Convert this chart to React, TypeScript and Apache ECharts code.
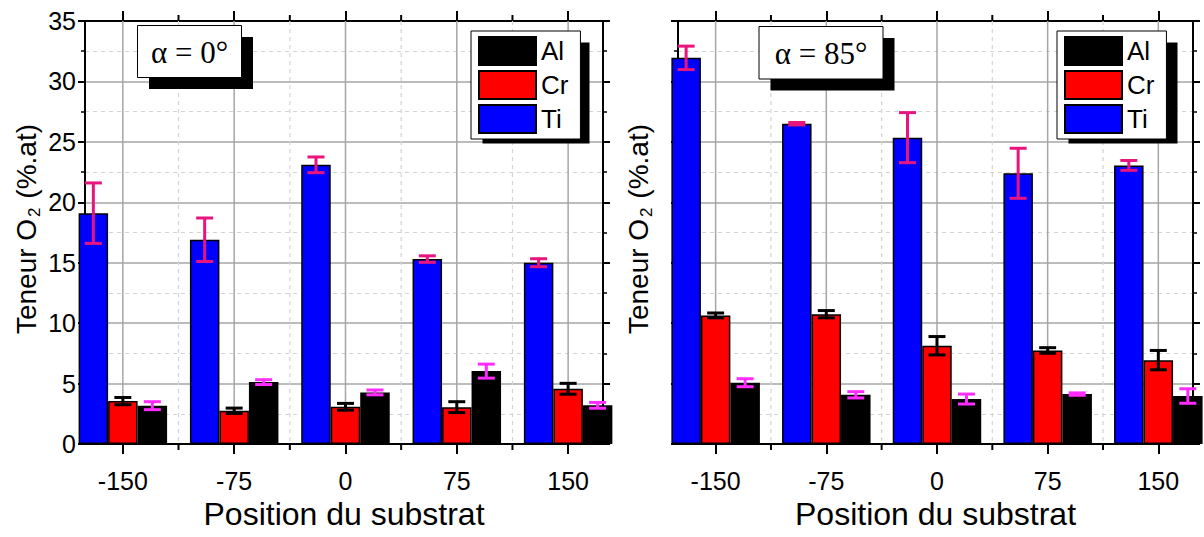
import React, { useEffect, useRef } from 'react';
import * as echarts from 'echarts';

// Substrate positions (x values) and minor grid positions
const positions = [-150, -75, 0, 75, 150];
const xMinor = [-112.5, -37.5, 37.5, 112.5];
const legendNames = ['Al', 'Cr', 'Ti'];

// alpha = 0°
const ti0 = [19.1, 16.9, 23.1, 15.3, 15.0];
const ti0Err = [2.5, 1.8, 0.65, 0.27, 0.33];
const cr0 = [3.55, 2.75, 3.08, 3.05, 4.57];
const cr0Err = [0.3, 0.22, 0.28, 0.45, 0.45];
const al0 = [3.17, 5.12, 4.27, 6.03, 3.2];
const al0Err = [0.33, 0.2, 0.2, 0.58, 0.24];

// alpha = 85°
const ti85 = [31.95, 26.5, 25.35, 22.4, 23.05];
const ti85Err = [0.97, 0.1, 2.07, 2.07, 0.41];
const cr85 = [10.64, 10.74, 8.13, 7.74, 6.94];
const cr85Err = [0.2, 0.3, 0.76, 0.23, 0.8];
const al85 = [5.07, 4.07, 3.72, 4.13, 3.97];
const al85Err = [0.33, 0.26, 0.41, 0.1, 0.6];

const FONT = '"Liberation Sans", Arial, Helvetica, sans-serif';
const SERIF = '"Liberation Serif", "Times New Roman", "DejaVu Serif", serif';
const BAR_W = 29.5;
const CAP = 17;

const COLORS = { Ti: '#0000ff', Cr: '#ff0000', Al: '#000000' };
const ERR_COLORS = { Ti: '#e8157e', Cr: '#000000', Al: '#ff2bff' };

function buildOption() {
  const panels = [
    { ti: ti0, tiErr: ti0Err, cr: cr0, crErr: cr0Err, al: al0, alErr: al0Err },
    { ti: ti85, tiErr: ti85Err, cr: cr85, crErr: cr85Err, al: al85, alErr: al85Err },
  ];
  const grids = [
    { left: 85, top: 21, width: 518, height: 423 },
    { left: 678, top: 21, width: 515, height: 423 },
  ];
  const xAxis: any[] = [];
  const yAxis: any[] = [];
  const series: any[] = [];

  panels.forEach((p, gi) => {
    const axisLine = { show: true, onZero: false, lineStyle: { color: '#000', width: 2 } };
    xAxis.push({
      type: 'value', gridIndex: gi, position: 'bottom', min: -175.5, max: 173.5,
      axisLine,
      axisTick: { show: true, inside: false, length: 10, customValues: positions, lineStyle: { color: '#000', width: 2 } },
      axisLabel: { show: true, customValues: positions, fontSize: 25, fontFamily: FONT, color: '#000', margin: 24 },
      splitLine: { show: false },
      name: 'Position du substrat', nameLocation: 'middle', nameGap: 45,
      nameTextStyle: { fontSize: 32, fontFamily: FONT, color: '#000' },
    });
    xAxis.push({
      type: 'value', gridIndex: gi, position: 'top', min: -175.5, max: 173.5,
      axisLine,
      axisTick: { show: true, inside: false, length: 10, customValues: positions, lineStyle: { color: '#000', width: 2 } },
      axisLabel: { show: false },
      splitLine: { show: false },
    });
    const yCommon = {
      type: 'value', gridIndex: gi, min: 0, max: 35, interval: 5,
      axisLine,
      axisTick: { show: true, inside: false, length: 7, lineStyle: { color: '#000', width: 2 } },
      minorTick: { show: true, splitNumber: 2, length: 4, lineStyle: { color: '#000', width: 1.5 } },
    };
    yAxis.push({
      ...yCommon, position: 'left',
      axisLabel: { show: gi === 0, fontSize: 25, fontFamily: FONT, color: '#000', margin: 9 },
      splitLine: { show: true, lineStyle: { color: '#a6a6a6', width: 1.5 } },
      minorSplitLine: { show: true, lineStyle: { color: '#d4d4d4', width: 1.2, type: [4, 4] } },
    });
    yAxis.push({
      ...yCommon, position: 'right',
      axisLabel: { show: false },
      splitLine: { show: false },
      minorSplitLine: { show: false },
    });

    const xi = gi * 2;
    const yi = gi * 2;

    // vertical grid lines (major, solid)
    series.push({
      type: 'custom', name: 'gridMajor' + gi, xAxisIndex: xi, yAxisIndex: yi, z: 1, silent: true,
      data: positions.map((x) => [x, 0]),
      encode: { x: 0, y: 1 },
      renderItem: (params: any, api: any) => {
        const c = api.coord([api.value(0), 0]);
        const cs = params.coordSys;
        return {
          type: 'line',
          shape: { x1: c[0], y1: cs.y, x2: c[0], y2: cs.y + cs.height },
          style: { stroke: '#a6a6a6', lineWidth: 1.5 },
        };
      },
    });
    // vertical grid lines (minor, dashed) + minor ticks top/bottom
    series.push({
      type: 'custom', name: 'gridMinor' + gi, xAxisIndex: xi, yAxisIndex: yi, z: 1, silent: true,
      data: xMinor.map((x) => [x, 0]),
      encode: { x: 0, y: 1 },
      renderItem: (params: any, api: any) => {
        const c = api.coord([api.value(0), 0]);
        const cs = params.coordSys;
        const bottom = cs.y + cs.height;
        return {
          type: 'group',
          children: [
            { type: 'line', shape: { x1: c[0], y1: cs.y, x2: c[0], y2: bottom }, style: { stroke: '#d4d4d4', lineWidth: 1.2, lineDash: [4, 4] } },
            { type: 'line', shape: { x1: c[0], y1: cs.y - 6, x2: c[0], y2: cs.y }, style: { stroke: '#000', lineWidth: 2 } },
            { type: 'line', shape: { x1: c[0], y1: bottom, x2: c[0], y2: bottom + 6 }, style: { stroke: '#000', lineWidth: 2 } },
          ],
        };
      },
    });

    const bars: [string, number[], number[]][] = [
      ['Ti', p.ti, p.tiErr],
      ['Cr', p.cr, p.crErr],
      ['Al', p.al, p.alErr],
    ];
    bars.forEach(([name, vals]) => {
      series.push({
        type: 'bar', name, xAxisIndex: xi, yAxisIndex: yi, z: 2,
        barWidth: BAR_W, barGap: '0%',
        data: positions.map((x, i) => [x, vals[i]]),
        itemStyle: { color: (COLORS as any)[name], borderColor: '#000', borderWidth: 1.5 },
        emphasis: { disabled: true },
      });
    });
    bars.forEach(([name, vals, errs], bi) => {
      const offset = (bi - 1) * BAR_W;
      const color = (ERR_COLORS as any)[name];
      series.push({
        type: 'custom', name: 'err' + name + gi, xAxisIndex: xi, yAxisIndex: yi, z: 3, silent: true,
        data: positions.map((x, i) => [x, vals[i] - errs[i], vals[i] + errs[i]]),
        encode: { x: 0, y: [1, 2] },
        renderItem: (params: any, api: any) => {
          const lo = api.coord([api.value(0), api.value(1)]);
          const hi = api.coord([api.value(0), api.value(2)]);
          const cx = lo[0] + offset;
          const hw = CAP / 2;
          const st = { stroke: color, lineWidth: 3 };
          return {
            type: 'group',
            children: [
              { type: 'line', shape: { x1: cx, y1: hi[1], x2: cx, y2: lo[1] }, style: st },
              { type: 'line', shape: { x1: cx - hw, y1: hi[1], x2: cx + hw, y2: hi[1] }, style: st },
              { type: 'line', shape: { x1: cx - hw, y1: lo[1], x2: cx + hw, y2: lo[1] }, style: st },
            ],
          };
        },
      });
    });
  });

  const legendCommon = {
    orient: 'vertical', data: legendNames, icon: 'rect',
    itemWidth: 57, itemHeight: 28, itemGap: 4,
    padding: [5, 12, 5, 7],
    backgroundColor: '#fff', borderColor: '#000', borderWidth: 1,
    textStyle: { fontSize: 26, fontFamily: FONT, color: '#000' },
    selectedMode: false, z: 4,
  };

  const yTitle = (x: number) => ({
    type: 'text', x, y: 229, rotation: Math.PI / 2, z: 5, silent: true,
    style: {
      text: '{a|Teneur O}{b|2}{a| (%.at)}',
      align: 'center', verticalAlign: 'middle',
      rich: {
        a: { fontSize: 28, fontFamily: FONT, fill: '#000', lineHeight: 34 },
        b: { fontSize: 17, fontFamily: FONT, fill: '#000', lineHeight: 17, verticalAlign: 'bottom', padding: [10, 1, 0, 2] },
      },
    },
  });

  const alphaBox = (x: number, y: number, w: number, h: number, label: string) => ({
    type: 'group', z: 6,
    children: [
      { type: 'rect', z: 6, shape: { x: x + 11.5, y: y + 11.5, width: w, height: h }, style: { fill: '#000' } },
      { type: 'rect', z: 6, shape: { x, y, width: w, height: h }, style: { fill: '#fff', stroke: '#000', lineWidth: 1 } },
      {
        type: 'text', z: 7, x: x + w / 2, y: y + h / 2 + 1,
        style: {
          text: '{s|' + label + '}',
          align: 'center', verticalAlign: 'middle',
          rich: { s: { fontFamily: SERIF, fontSize: 31, fill: '#000', lineHeight: 34 } },
        },
      },
    ],
  });

  return {
    animation: false,
    backgroundColor: '#fff',
    grid: grids,
    xAxis,
    yAxis,
    legend: [
      { ...legendCommon, left: 471, top: 31 },
      { ...legendCommon, left: 1057, top: 31 },
    ],
    graphic: [
      { type: 'rect', z: 3, shape: { x: 482.5, y: 42.5, width: 107, height: 101 }, style: { fill: '#000' } },
      { type: 'rect', z: 3, shape: { x: 1068.5, y: 42.5, width: 109, height: 101 }, style: { fill: '#000' } },
      alphaBox(137.5, 25.5, 104, 52, 'α = 0°'),
      alphaBox(759, 26.5, 124, 52.5, 'α = 85°'),
      yTitle(26),
      yTitle(638),
    ],
    series,
  };
}

export default function App() {
  const ref = useRef<HTMLDivElement>(null);
  useEffect(() => {
    const chart = echarts.init(ref.current!, null, { renderer: 'svg' });
    chart.setOption(buildOption() as any);
    return () => chart.dispose();
  }, []);
  return (
    <div
      ref={ref}
      style={{ position: 'absolute', left: 0, top: 0, width: 1204, height: 537, background: '#fff' }}
    />
  );
}
